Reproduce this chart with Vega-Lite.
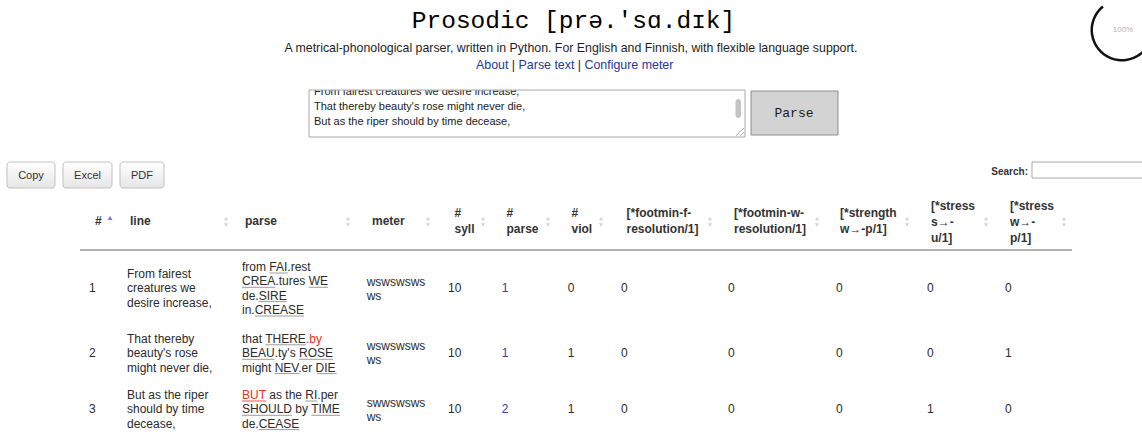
{
"$schema":"https://vega.github.io/schema/vega-lite/v6.json",
"width":1142,"height":437,"padding":0,
"autosize":{"type":"none"},
"background":"#ffffff",
"config":{"view":{"stroke":null},"text":{"font":"Liberation Sans","baseline":"alphabetic","align":"left"}},
"datasets":{
"T":[
{"t":"Prosodic [prə.'sɑ.dɪk]","x":573.5,"y":28,"g":"title"},
{"t":"A metrical-phonological parser, written in Python. For English and Finnish, with flexible language support.","x":571,"y":51.5,"g":"sub"},
{"t":"About","x":476,"y":69,"g":"link"},
{"t":"|","x":511.8,"y":69,"g":"pipe"},
{"t":"Parse text","x":518.6,"y":69,"g":"link"},
{"t":"|","x":577.7,"y":69,"g":"pipe"},
{"t":"Configure meter","x":584.5,"y":69,"g":"link"},
{"t":"From fairest creatures we desire increase,","x":314,"y":95,"g":"ta"},
{"t":"That thereby beauty's rose might never die,","x":314,"y":110,"g":"ta"},
{"t":"But as the riper should by time decease,","x":314,"y":124.5,"g":"ta"},
{"t":"Parse","x":794,"y":117,"g":"pbtn"},
{"t":"Copy","x":31,"y":179,"g":"dtb"},
{"t":"Excel","x":87.5,"y":179,"g":"dtb"},
{"t":"PDF","x":142,"y":179,"g":"dtb"},
{"t":"Search:","x":1028,"y":174.5,"g":"search"},
{"t":"100%","x":1123,"y":32,"g":"pct"},
{"t":"#","x":95,"y":225.3,"g":"head"},
{"t":"line","x":130,"y":225.3,"g":"head"},
{"t":"parse","x":245,"y":225.3,"g":"head"},
{"t":"meter","x":372,"y":225.3,"g":"head"},
{"t":"#","x":454.5,"y":217.3,"g":"head"},
{"t":"syll","x":454.5,"y":233.3,"g":"head"},
{"t":"#","x":506.5,"y":217.3,"g":"head"},
{"t":"parse","x":506.5,"y":233.3,"g":"head"},
{"t":"#","x":571.5,"y":217.3,"g":"head"},
{"t":"viol","x":571.5,"y":233.3,"g":"head"},
{"t":"[*footmin-f-","x":626.5,"y":217.3,"g":"head"},
{"t":"resolution/1]","x":626.5,"y":233.3,"g":"head"},
{"t":"[*footmin-w-","x":734,"y":217.3,"g":"head"},
{"t":"resolution/1]","x":734,"y":233.3,"g":"head"},
{"t":"[*strength","x":840,"y":217.3,"g":"head"},
{"t":"w→-p/1]","x":840,"y":233.3,"g":"head"},
{"t":"[*stress","x":931,"y":210.3,"g":"head"},
{"t":"s→-","x":931,"y":226.3,"g":"head"},
{"t":"u/1]","x":931,"y":242.3,"g":"head"},
{"t":"[*stress","x":1010,"y":210.3,"g":"head"},
{"t":"w→-","x":1010,"y":226.3,"g":"head"},
{"t":"p/1]","x":1010,"y":242.3,"g":"head"},
{"t":"1","x":89,"y":292.3,"g":"body"},
{"t":"From fairest","x":127,"y":278,"g":"body"},
{"t":"creatures we","x":127,"y":292.3,"g":"body"},
{"t":"desire increase,","x":127,"y":306.6,"g":"body"},
{"t":"from FAI.rest","x":242,"y":271,"g":"body"},
{"t":"CREA.tures WE","x":242,"y":285.3,"g":"body"},
{"t":"de.SIRE","x":242,"y":299.6,"g":"body"},
{"t":"in.CREASE","x":242,"y":314,"g":"body"},
{"t":"wswswsws","x":366.7,"y":285.7,"g":"body"},
{"t":"ws","x":366.7,"y":299.7,"g":"body"},
{"t":"10","x":448,"y":292.3,"g":"body"},
{"t":"1","x":501.7,"y":292.3,"g":"blue"},
{"t":"0","x":567.7,"y":292.3,"g":"body"},
{"t":"0","x":621,"y":292.3,"g":"body"},
{"t":"0","x":728,"y":292.3,"g":"body"},
{"t":"0","x":836,"y":292.3,"g":"body"},
{"t":"0","x":927,"y":292.3,"g":"body"},
{"t":"0","x":1005,"y":292.3,"g":"body"},
{"t":"2","x":89,"y":357.3,"g":"body"},
{"t":"That thereby","x":127,"y":342.8,"g":"body"},
{"t":"beauty's rose","x":127,"y":357.3,"g":"body"},
{"t":"might never die,","x":127,"y":371.6,"g":"body"},
{"t":"that THERE","x":242,"y":342.8,"g":"body"},
{"t":".by","x":306,"y":342.8,"g":"red"},
{"t":"BEAU.ty's ROSE","x":242,"y":357.3,"g":"body"},
{"t":"might NEV.er DIE","x":242,"y":371.6,"g":"body"},
{"t":"wswswsws","x":366.7,"y":350,"g":"body"},
{"t":"ws","x":366.7,"y":364.3,"g":"body"},
{"t":"10","x":448,"y":357.3,"g":"body"},
{"t":"1","x":501.7,"y":357.3,"g":"blue"},
{"t":"1","x":567.7,"y":357.3,"g":"body"},
{"t":"0","x":621,"y":357.3,"g":"body"},
{"t":"0","x":728,"y":357.3,"g":"body"},
{"t":"0","x":836,"y":357.3,"g":"body"},
{"t":"0","x":927,"y":357.3,"g":"body"},
{"t":"1","x":1005,"y":357.3,"g":"body"},
{"t":"3","x":89,"y":413.3,"g":"body"},
{"t":"But as the riper","x":127,"y":399,"g":"body"},
{"t":"should by time","x":127,"y":413.3,"g":"body"},
{"t":"decease,","x":127,"y":427.6,"g":"body"},
{"t":"BUT","x":242,"y":399,"g":"red"},
{"t":"as the RI.per","x":269.3,"y":399,"g":"body"},
{"t":"SHOULD by TIME","x":242,"y":413.3,"g":"body"},
{"t":"de.CEASE","x":242,"y":427.6,"g":"body"},
{"t":"swwswsws","x":366.7,"y":406.7,"g":"body"},
{"t":"ws","x":366.7,"y":420.7,"g":"body"},
{"t":"10","x":448,"y":413.3,"g":"body"},
{"t":"2","x":501.7,"y":413.3,"g":"blue"},
{"t":"1","x":567.7,"y":413.3,"g":"body"},
{"t":"0","x":621,"y":413.3,"g":"body"},
{"t":"0","x":728,"y":413.3,"g":"body"},
{"t":"0","x":836,"y":413.3,"g":"body"},
{"t":"1","x":927,"y":413.3,"g":"body"},
{"t":"0","x":1005,"y":413.3,"g":"body"}
],
"R":[
{"k":"hl","x":80,"x2":1072,"y":250,"y2":250},
{"k":"rz","x":736,"x2":744,"y":136,"y2":128},
{"k":"rz","x":740,"x2":744,"y":136,"y2":132},
{"k":"ul","x":269.3,"x2":288,"y":273,"y2":273},
{"k":"ul","x":242,"x2":275.3,"y":287.3,"y2":287.3},
{"k":"ul","x":308.7,"x2":328,"y":287.3,"y2":287.3},
{"k":"ul","x":258.7,"x2":286.7,"y":301.6,"y2":301.6},
{"k":"ul","x":254.7,"x2":304,"y":316,"y2":316},
{"k":"ul","x":265.4,"x2":306,"y":344.8,"y2":344.8},
{"k":"ul","x":242,"x2":274.7,"y":359.3,"y2":359.3},
{"k":"ul","x":299,"x2":333,"y":359.3,"y2":359.3},
{"k":"ul","x":274.7,"x2":299.3,"y":373.6,"y2":373.6},
{"k":"ul","x":316.7,"x2":336.7,"y":373.6,"y2":373.6},
{"k":"ulr","x":242,"x2":266,"y":401,"y2":401},
{"k":"ul","x":305.3,"x2":317.3,"y":401,"y2":401},
{"k":"ul","x":242,"x2":292,"y":415.3,"y2":415.3},
{"k":"ul","x":311.3,"x2":340,"y":415.3,"y2":415.3},
{"k":"ul","x":258.7,"x2":299.4,"y":429.6,"y2":429.6}
],
"B":[
{"k":"dtb","x":7,"x2":55,"y":162,"y2":188},
{"k":"dtb","x":63,"x2":112,"y":162,"y2":188},
{"k":"dtb","x":120,"x2":164,"y":162,"y2":188},
{"k":"pbtn","x":751,"x2":838,"y":91,"y2":135},
{"k":"mask","x":300,"x2":748,"y":75,"y2":90},
{"k":"box","x":309,"x2":745,"y":90,"y2":137},
{"k":"box","x":1032,"x2":1150,"y":162,"y2":178},
{"k":"thumb","x":735.5,"x2":741,"y":99,"y2":118}
],
"P":[
{"k":"asc","x":110,"y":218},
{"k":"up","x":226,"y":218.5},{"k":"dn","x":226,"y":225},
{"k":"up","x":348,"y":218.5},{"k":"dn","x":348,"y":225},
{"k":"up","x":428,"y":218.5},{"k":"dn","x":428,"y":225},
{"k":"up","x":483,"y":218.5},{"k":"dn","x":483,"y":225},
{"k":"up","x":548,"y":218.5},{"k":"dn","x":548,"y":225},
{"k":"up","x":601,"y":218.5},{"k":"dn","x":601,"y":225},
{"k":"up","x":710,"y":218.5},{"k":"dn","x":710,"y":225},
{"k":"up","x":817,"y":218.5},{"k":"dn","x":817,"y":225},
{"k":"up","x":907,"y":218.5},{"k":"dn","x":907,"y":225},
{"k":"up","x":986,"y":218.5},{"k":"dn","x":986,"y":225},
{"k":"up","x":1064,"y":218.5},{"k":"dn","x":1064,"y":225}
],
"C":[{"x":1122,"y":30}]
},
"layer":[
{"data":{"name":"B"},"transform":[{"filter":"datum.k=='dtb'"}],
 "mark":{"type":"rect","cornerRadius":3,"stroke":"#c2c2c2","strokeWidth":1,
  "fill":{"x1":0,"y1":0,"x2":0,"y2":1,"gradient":"linear","stops":[{"offset":0,"color":"#ffffff"},{"offset":1,"color":"#e6e6e6"}]}},
 "encoding":{"x":{"field":"x","type":"quantitative","scale":{"domain":[0,1142]},"axis":null},"x2":{"field":"x2"},
  "y":{"field":"y","type":"quantitative","scale":{"domain":[0,437],"reverse":true},"axis":null},"y2":{"field":"y2"}}},
{"data":{"name":"B"},"transform":[{"filter":"datum.k=='pbtn'"}],
 "mark":{"type":"rect","fill":"#d3d3d3","stroke":"#8e8e8e","strokeWidth":1},
 "encoding":{"x":{"field":"x","type":"quantitative","scale":{"domain":[0,1142]},"axis":null},"x2":{"field":"x2"},
  "y":{"field":"y","type":"quantitative","scale":{"domain":[0,437],"reverse":true},"axis":null},"y2":{"field":"y2"}}},
{"data":{"name":"T"},"transform":[{"filter":"datum.g=='ta'"}],
 "mark":{"type":"text","fontSize":11,"color":"#222222"},
 "encoding":{"x":{"field":"x","type":"quantitative","scale":{"domain":[0,1142]},"axis":null},
  "y":{"field":"y","type":"quantitative","scale":{"domain":[0,437],"reverse":true},"axis":null},"text":{"field":"t"}}},
{"data":{"name":"B"},"transform":[{"filter":"datum.k=='mask'"}],
 "mark":{"type":"rect","fill":"#ffffff"},
 "encoding":{"x":{"field":"x","type":"quantitative","scale":{"domain":[0,1142]},"axis":null},"x2":{"field":"x2"},
  "y":{"field":"y","type":"quantitative","scale":{"domain":[0,437],"reverse":true},"axis":null},"y2":{"field":"y2"}}},
{"data":{"name":"B"},"transform":[{"filter":"datum.k=='box'"}],
 "mark":{"type":"rect","fill":"#ffffff","fillOpacity":0,"stroke":"#a8a8a8","strokeWidth":1},
 "encoding":{"x":{"field":"x","type":"quantitative","scale":{"domain":[0,1142]},"axis":null},"x2":{"field":"x2"},
  "y":{"field":"y","type":"quantitative","scale":{"domain":[0,437],"reverse":true},"axis":null},"y2":{"field":"y2"}}},
{"data":{"name":"B"},"transform":[{"filter":"datum.k=='thumb'"}],
 "mark":{"type":"rect","fill":"#c4c4c4","cornerRadius":3},
 "encoding":{"x":{"field":"x","type":"quantitative","scale":{"domain":[0,1142]},"axis":null},"x2":{"field":"x2"},
  "y":{"field":"y","type":"quantitative","scale":{"domain":[0,437],"reverse":true},"axis":null},"y2":{"field":"y2"}}},
{"data":{"name":"R"},"transform":[{"filter":"datum.k=='hl'"}],
 "mark":{"type":"rule","color":"#9a9a9a","strokeWidth":1.6},
 "encoding":{"x":{"field":"x","type":"quantitative","scale":{"domain":[0,1142]},"axis":null},"x2":{"field":"x2"},
  "y":{"field":"y","type":"quantitative","scale":{"domain":[0,437],"reverse":true},"axis":null},"y2":{"field":"y2"}}},
{"data":{"name":"R"},"transform":[{"filter":"datum.k=='rz'"}],
 "mark":{"type":"rule","color":"#b0b0b0","strokeWidth":1},
 "encoding":{"x":{"field":"x","type":"quantitative","scale":{"domain":[0,1142]},"axis":null},"x2":{"field":"x2"},
  "y":{"field":"y","type":"quantitative","scale":{"domain":[0,437],"reverse":true},"axis":null},"y2":{"field":"y2"}}},
{"data":{"name":"R"},"transform":[{"filter":"datum.k=='ul'"}],
 "mark":{"type":"rule","color":"#9c9c9c","strokeWidth":1},
 "encoding":{"x":{"field":"x","type":"quantitative","scale":{"domain":[0,1142]},"axis":null},"x2":{"field":"x2"},
  "y":{"field":"y","type":"quantitative","scale":{"domain":[0,437],"reverse":true},"axis":null},"y2":{"field":"y2"}}},
{"data":{"name":"R"},"transform":[{"filter":"datum.k=='ulr'"}],
 "mark":{"type":"rule","color":"#e8544f","strokeWidth":1},
 "encoding":{"x":{"field":"x","type":"quantitative","scale":{"domain":[0,1142]},"axis":null},"x2":{"field":"x2"},
  "y":{"field":"y","type":"quantitative","scale":{"domain":[0,437],"reverse":true},"axis":null},"y2":{"field":"y2"}}},
{"data":{"name":"T"},"transform":[{"filter":"datum.g=='title'"}],
 "mark":{"type":"text","font":"Liberation Mono","fontSize":24.5,"align":"center","color":"#000000"},
 "encoding":{"x":{"field":"x","type":"quantitative","scale":{"domain":[0,1142]},"axis":null},
  "y":{"field":"y","type":"quantitative","scale":{"domain":[0,437],"reverse":true},"axis":null},"text":{"field":"t"}}},
{"data":{"name":"T"},"transform":[{"filter":"datum.g=='sub'"}],
 "mark":{"type":"text","fontSize":12.35,"align":"center","color":"#1e1e1e"},
 "encoding":{"x":{"field":"x","type":"quantitative","scale":{"domain":[0,1142]},"axis":null},
  "y":{"field":"y","type":"quantitative","scale":{"domain":[0,437],"reverse":true},"axis":null},"text":{"field":"t"}}},
{"data":{"name":"T"},"transform":[{"filter":"datum.g=='link'"}],
 "mark":{"type":"text","fontSize":12.4,"color":"#23389a"},
 "encoding":{"x":{"field":"x","type":"quantitative","scale":{"domain":[0,1142]},"axis":null},
  "y":{"field":"y","type":"quantitative","scale":{"domain":[0,437],"reverse":true},"axis":null},"text":{"field":"t"}}},
{"data":{"name":"T"},"transform":[{"filter":"datum.g=='pipe'"}],
 "mark":{"type":"text","fontSize":12.4,"color":"#222222"},
 "encoding":{"x":{"field":"x","type":"quantitative","scale":{"domain":[0,1142]},"axis":null},
  "y":{"field":"y","type":"quantitative","scale":{"domain":[0,437],"reverse":true},"axis":null},"text":{"field":"t"}}},
{"data":{"name":"T"},"transform":[{"filter":"datum.g=='pbtn'"}],
 "mark":{"type":"text","font":"Liberation Mono","fontSize":13,"align":"center","color":"#1a1a1a"},
 "encoding":{"x":{"field":"x","type":"quantitative","scale":{"domain":[0,1142]},"axis":null},
  "y":{"field":"y","type":"quantitative","scale":{"domain":[0,437],"reverse":true},"axis":null},"text":{"field":"t"}}},
{"data":{"name":"T"},"transform":[{"filter":"datum.g=='dtb'"}],
 "mark":{"type":"text","fontSize":11,"align":"center","color":"#333333"},
 "encoding":{"x":{"field":"x","type":"quantitative","scale":{"domain":[0,1142]},"axis":null},
  "y":{"field":"y","type":"quantitative","scale":{"domain":[0,437],"reverse":true},"axis":null},"text":{"field":"t"}}},
{"data":{"name":"T"},"transform":[{"filter":"datum.g=='search'"}],
 "mark":{"type":"text","fontSize":10,"fontWeight":"bold","align":"right","color":"#333333"},
 "encoding":{"x":{"field":"x","type":"quantitative","scale":{"domain":[0,1142]},"axis":null},
  "y":{"field":"y","type":"quantitative","scale":{"domain":[0,437],"reverse":true},"axis":null},"text":{"field":"t"}}},
{"data":{"name":"T"},"transform":[{"filter":"datum.g=='pct'"}],
 "mark":{"type":"text","fontSize":8,"align":"center","color":"#b0b0b0"},
 "encoding":{"x":{"field":"x","type":"quantitative","scale":{"domain":[0,1142]},"axis":null},
  "y":{"field":"y","type":"quantitative","scale":{"domain":[0,437],"reverse":true},"axis":null},"text":{"field":"t"}}},
{"data":{"name":"T"},"transform":[{"filter":"datum.g=='head'"}],
 "mark":{"type":"text","fontSize":12,"fontWeight":"bold","color":"#333333"},
 "encoding":{"x":{"field":"x","type":"quantitative","scale":{"domain":[0,1142]},"axis":null},
  "y":{"field":"y","type":"quantitative","scale":{"domain":[0,437],"reverse":true},"axis":null},"text":{"field":"t"}}},
{"data":{"name":"T"},"transform":[{"filter":"datum.g=='body'"}],
 "mark":{"type":"text","fontSize":12,"color":"#2b2b2b"},
 "encoding":{"x":{"field":"x","type":"quantitative","scale":{"domain":[0,1142]},"axis":null},
  "y":{"field":"y","type":"quantitative","scale":{"domain":[0,437],"reverse":true},"axis":null},"text":{"field":"t"}}},
{"data":{"name":"T"},"transform":[{"filter":"datum.g=='blue'"}],
 "mark":{"type":"text","fontSize":12,"color":"#2f3fa0"},
 "encoding":{"x":{"field":"x","type":"quantitative","scale":{"domain":[0,1142]},"axis":null},
  "y":{"field":"y","type":"quantitative","scale":{"domain":[0,437],"reverse":true},"axis":null},"text":{"field":"t"}}},
{"data":{"name":"T"},"transform":[{"filter":"datum.g=='red'"}],
 "mark":{"type":"text","fontSize":12,"color":"#e4302b"},
 "encoding":{"x":{"field":"x","type":"quantitative","scale":{"domain":[0,1142]},"axis":null},
  "y":{"field":"y","type":"quantitative","scale":{"domain":[0,437],"reverse":true},"axis":null},"text":{"field":"t"}}},
{"data":{"name":"P"},"transform":[{"filter":"datum.k=='up'"}],
 "mark":{"type":"point","shape":"triangle-up","filled":true,"size":16,"color":"#d2d2d2","opacity":1},
 "encoding":{"x":{"field":"x","type":"quantitative","scale":{"domain":[0,1142]},"axis":null},
  "y":{"field":"y","type":"quantitative","scale":{"domain":[0,437],"reverse":true},"axis":null}}},
{"data":{"name":"P"},"transform":[{"filter":"datum.k=='dn'"}],
 "mark":{"type":"point","shape":"triangle-down","filled":true,"size":16,"color":"#d2d2d2","opacity":1},
 "encoding":{"x":{"field":"x","type":"quantitative","scale":{"domain":[0,1142]},"axis":null},
  "y":{"field":"y","type":"quantitative","scale":{"domain":[0,437],"reverse":true},"axis":null}}},
{"data":{"name":"P"},"transform":[{"filter":"datum.k=='asc'"}],
 "mark":{"type":"point","shape":"triangle-up","filled":true,"size":24,"color":"#7b7be0","opacity":1},
 "encoding":{"x":{"field":"x","type":"quantitative","scale":{"domain":[0,1142]},"axis":null},
  "y":{"field":"y","type":"quantitative","scale":{"domain":[0,437],"reverse":true},"axis":null}}},
{"data":{"name":"C"},
 "mark":{"type":"arc","innerRadius":29,"outerRadius":31.5,"theta":1.45,"theta2":5.6,"color":"#111111"},
 "encoding":{"x":{"field":"x","type":"quantitative","scale":{"domain":[0,1142]},"axis":null},
  "y":{"field":"y","type":"quantitative","scale":{"domain":[0,437],"reverse":true},"axis":null}}}
]
}
